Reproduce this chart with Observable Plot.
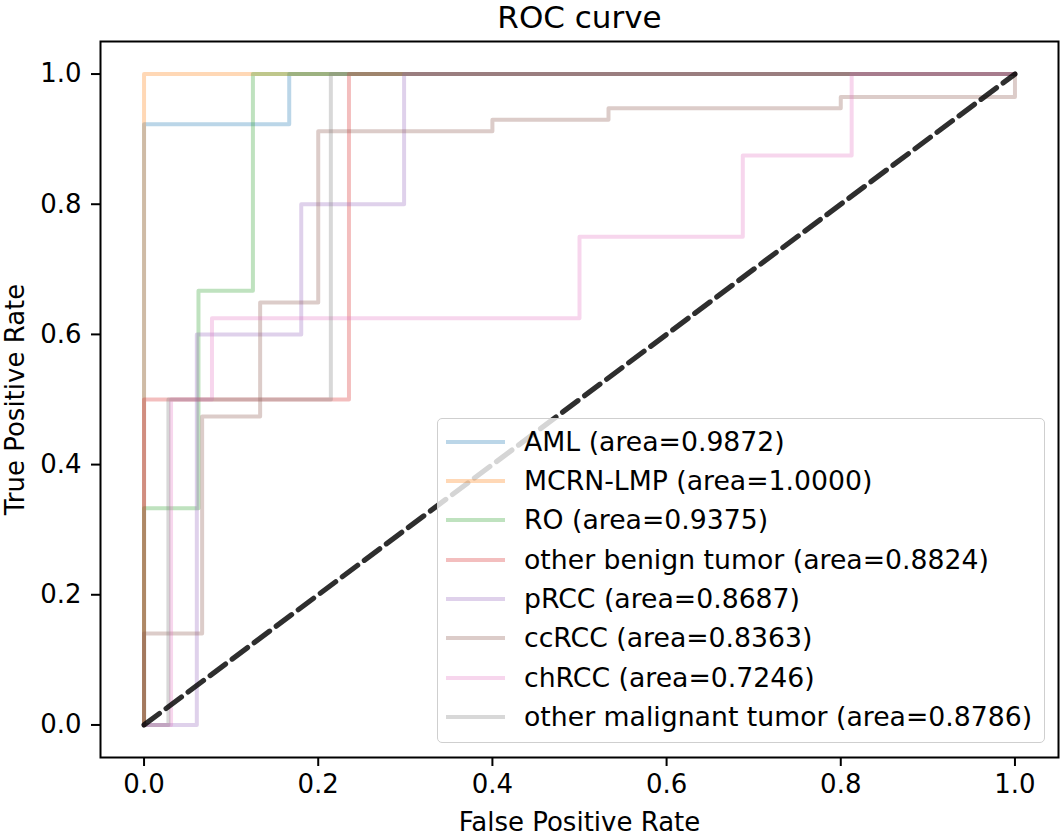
<!DOCTYPE html>
<html>
<head>
<meta charset="utf-8">
<script src="https://cdn.jsdelivr.net/npm/d3@7"></script>
<script src="https://cdn.jsdelivr.net/npm/@observablehq/plot@0.6"></script>
<style>
  html, body { margin: 0; padding: 0; background: #fff; }
  #wrap { position: relative; width: 1062px; height: 836px; font-family: "DejaVu Sans", sans-serif; }
  #legend { position: absolute; left: 437px; top: 418px; width: 608px; height: 325px; box-sizing: border-box;
    background: rgba(255,255,255,0.8); border: 1.6px solid #cfcfcf; border-radius: 5px; }
  .row { position: absolute; left: 0; height: 0; }
  .sw { position: absolute; left: 8px; width: 59px; height: 4px; top: -2px; }
  .lab { position: absolute; left: 86px; top: -16px; font-size: 26.7px; line-height: 32px; white-space: nowrap; color: #000; }
</style>
</head>
<body>
<div id="wrap"><div id="chart"></div><div id="legend"></div></div>
<script>
// ---- data ----
const seriesNames = ["AML", "MCRN-LMP", "RO", "other benign tumor", "pRCC", "ccRCC", "chRCC", "other malignant tumor"];
const areas = ["0.9872", "1.0000", "0.9375", "0.8824", "0.8687", "0.8363", "0.7246", "0.8786"];
const colors = ["#1f77b4", "#ff7f0e", "#2ca02c", "#d62728", "#9467bd", "#8c564b", "#e377c2", "#7f7f7f"];

const fprAML = [0, 0, 0.1667, 0.1667, 1];
const tprAML = [0, 0.923, 0.923, 1, 1];
const fprMCRN = [0, 0, 1];
const tprMCRN = [0, 1, 1];
const fprRO = [0, 0, 0.0625, 0.0625, 0.125, 0.125, 1];
const tprRO = [0, 0.333, 0.333, 0.667, 0.667, 1, 1];
const fprBenign = [0, 0, 0.2353, 0.2353, 1];
const tprBenign = [0, 0.5, 0.5, 1, 1];
const fprPRCC = [0, 0.0606, 0.0606, 0.1805, 0.1805, 0.2986, 0.2986, 1];
const tprPRCC = [0, 0, 0.6, 0.6, 0.8, 0.8, 1, 1];
const fprCCRCC = [0, 0, 0.0667, 0.0667, 0.1333, 0.1333, 0.2, 0.2, 0.4, 0.4, 0.5333, 0.5333, 0.8, 0.8, 1, 1];
const tprCCRCC = [0, 0.1404, 0.1404, 0.4737, 0.4737, 0.6491, 0.6491, 0.9123, 0.9123, 0.9298, 0.9298, 0.9474, 0.9474, 0.9649, 0.9649, 1];
const fprCHRCC = [0, 0.031, 0.031, 0.078, 0.078, 0.5, 0.5, 0.6875, 0.6875, 0.8125, 0.8125, 1];
const tprCHRCC = [0, 0, 0.5, 0.5, 0.625, 0.625, 0.75, 0.75, 0.875, 0.875, 1, 1];
const fprMalig = [0, 0.028, 0.028, 0.2145, 0.2145, 1];
const tprMalig = [0, 0, 0.5, 0.5, 1, 1];

const chanceX = [0, 1];
const chanceY = [0, 1];

const xTicks = [0, 0.2, 0.4, 0.6, 0.8, 1.0];
const yTicks = [0, 0.2, 0.4, 0.6, 0.8, 1.0];

// ---- build table ----
const fprs = [fprAML, fprMCRN, fprRO, fprBenign, fprPRCC, fprCCRCC, fprCHRCC, fprMalig];
const tprs = [tprAML, tprMCRN, tprRO, tprBenign, tprPRCC, tprCCRCC, tprCHRCC, tprMalig];
const rows = [];
seriesNames.forEach((s, i) => fprs[i].forEach((f, j) => rows.push({series: s, fpr: f, tpr: tprs[i][j]})));
const chance = chanceX.map((x, i) => ({x, y: chanceY[i]}));

const chart = Plot.plot({
  width: 1062,
  height: 836,
  marginTop: 41,
  marginBottom: 79,
  marginLeft: 100,
  marginRight: 4,
  style: {fontFamily: "DejaVu Sans", fontSize: "26px", color: "#000", background: "#fff"},
  x: {domain: [-0.05, 1.05]},
  y: {domain: [-0.05, 1.05]},
  color: {domain: seriesNames, range: colors},
  marks: [
    Plot.line(rows, {x: "fpr", y: "tpr", z: "series", stroke: "series", strokeOpacity: 0.3, strokeWidth: 4,
      strokeLinejoin: "round", strokeLinecap: "square"}),
    Plot.line(chance, {x: "x", y: "y", stroke: "#000", strokeOpacity: 0.82, strokeWidth: 5.2, strokeDasharray: "19.2,8.3"}),
    Plot.frame({stroke: "#000", strokeWidth: 2}),
    Plot.axisX({ticks: xTicks, tickFormat: d3.format(".1f"), tickSize: 9, tickPadding: 8, strokeWidth: 2, fontSize: 26, label: null}),
    Plot.axisY({ticks: yTicks, tickFormat: d3.format(".1f"), tickSize: 9, tickPadding: 10, strokeWidth: 2, fontSize: 26, label: null}),
    Plot.text(["ROC curve"], {frameAnchor: "top", textAnchor: "middle", dy: -14, lineAnchor: "bottom", fontSize: 31, fill: "#000"}),
    Plot.text(["False Positive Rate"], {frameAnchor: "bottom", textAnchor: "middle", dy: 65, lineAnchor: "middle", fontSize: 26, fill: "#000"}),
    Plot.text(["True Positive Rate"], {frameAnchor: "left", textAnchor: "middle", dx: -85, rotate: -90, lineAnchor: "middle", fontSize: 26, fill: "#000"})
  ]
});
document.getElementById("chart").appendChild(chart);

// ---- legend ----
const legend = document.getElementById("legend");
seriesNames.forEach((s, i) => {
  const row = document.createElement("div");
  row.className = "row";
  row.style.top = (22.7 + i * 39.3) + "px";
  const sw = document.createElement("div");
  sw.className = "sw";
  sw.style.background = colors[i];
  sw.style.opacity = 0.3;
  const lab = document.createElement("div");
  lab.className = "lab";
  lab.textContent = `${s} (area=${areas[i]})`;
  row.appendChild(sw);
  row.appendChild(lab);
  legend.appendChild(row);
});
</script>
</body>
</html>
